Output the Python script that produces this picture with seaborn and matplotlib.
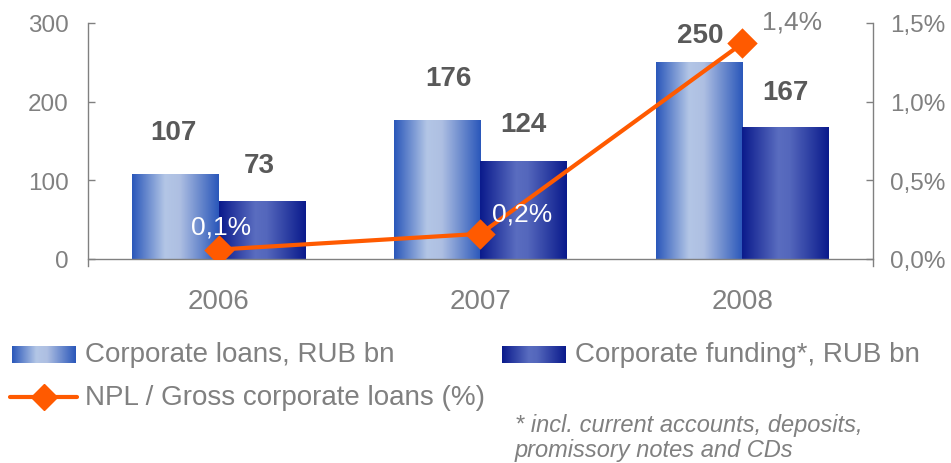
import numpy as np
import pandas as pd
import matplotlib
matplotlib.use("Agg")
import matplotlib.pyplot as plt
from matplotlib.colors import LinearSegmentedColormap
from matplotlib.lines import Line2D
import seaborn as sns

# --- data -----------------------------------------------------------------
years = ["2006", "2007", "2008"]
corporate_loans = [107, 176, 250]        # RUB bn
corporate_funding = [73, 124, 167]       # RUB bn
npl_ratio = [0.06, 0.16, 1.37]           # NPL / gross corporate loans, %
series_names = ["Corporate loans, RUB bn", "Corporate funding*, RUB bn"]
npl_name = "NPL / Gross corporate loans (%)"
footnote_lines = ["* incl. current accounts, deposits,",
                  "promissory notes and CDs"]

df = pd.DataFrame({
    "year": years * 2,
    "series": [series_names[0]] * 3 + [series_names[1]] * 3,
    "value": corporate_loans + corporate_funding,
})

# --- style ----------------------------------------------------------------
sns.set_theme(style="white")
plt.rcParams["font.family"] = ["Liberation Sans", "DejaVu Sans"]

GREY = "#808080"
DARK = "#595959"
ORANGE = "#FF5A00"
DPI = 100
PX = 72.0 / DPI  # points per pixel

loans_cmap = LinearSegmentedColormap.from_list(
    "loans", [(0.0, "#2a57ba"), (0.38, "#b3c6e6"), (0.55, "#aebfe2"), (1.0, "#2a57ba")])
funding_cmap = LinearSegmentedColormap.from_list(
    "funding", [(0.0, "#0a1a8c"), (0.42, "#5a6dc0"), (0.55, "#5467bc"), (1.0, "#0a1a8c")])

fig = plt.figure(figsize=(9.51, 4.64), dpi=DPI)
ax = fig.add_axes([0.0925, 0.4397, 0.8255, 0.5086])

sns.barplot(data=df, x="year", y="value", hue="series", order=years,
            hue_order=series_names, width=0.66, gap=0, ax=ax,
            legend=False, edgecolor="none", linewidth=0, zorder=2)

ax.set_xlim(-0.5, 2.5)
ax.set_ylim(0, 300)

# Paint each bar with a horizontal gradient clipped to its rectangle
grad = np.linspace(0, 1, 256).reshape(1, -1)
for container, cmap in zip(ax.containers, [loans_cmap, funding_cmap]):
    for rect in container:
        x0, y0 = rect.get_x(), rect.get_y()
        w, h = rect.get_width(), rect.get_height()
        rect.set_facecolor("none")
        ax.imshow(grad, cmap=cmap, extent=[x0, x0 + w, y0, y0 + h],
                  aspect="auto", interpolation="bicubic", zorder=2)
ax.set_xlim(-0.5, 2.5)
ax.set_ylim(0, 300)

# Value labels above bars (offsets in pixels: dx, gap above bar top)
label_offsets = [[(-2, 30), (11, 30), (1, 14)],
                 [(-3, 24), (0, 24), (0, 23)]]
for container, values, offs in zip(ax.containers,
                                   [corporate_loans, corporate_funding],
                                   label_offsets):
    for rect, v, (dx, dy) in zip(container, values, offs):
        ax.annotate(f"{v}", (rect.get_x() + rect.get_width() / 2, rect.get_height()),
                    xytext=(dx * PX, dy * PX), textcoords="offset points",
                    ha="center", va="bottom", fontsize=20, fontweight="bold",
                    color=DARK, zorder=6)

# Axes styling
for side in ["top", "right"]:
    ax.spines[side].set_visible(False)
for side in ["left", "bottom"]:
    ax.spines[side].set_color(GREY)
    ax.spines[side].set_linewidth(1.0)
ax.spines["left"].set_bounds(-9, 300)
ax.set_yticks([0, 100, 200, 300])
ax.tick_params(axis="y", direction="in", length=7 * PX, width=1, color=GREY,
               labelsize=17.5, labelcolor=GREY, pad=19 * PX)
ax.tick_params(axis="x", length=0, labelsize=20, labelcolor=GREY, pad=29 * PX)
ax.set_xlabel("")
ax.set_ylabel("")
ax.grid(False)
ax.set_facecolor("none")

# Secondary axis: NPL ratio
ax2 = ax.twinx()
npl_df = pd.DataFrame({"year": years, "npl": npl_ratio})
sns.pointplot(data=npl_df, x="year", y="npl", order=years, ax=ax2,
              color=ORANGE, markers="D", markersize=13, linewidth=3,
              zorder=5)
ax2.set_xlim(-0.5, 2.5)
ax2.set_ylim(0, 1.5)
ax2.set_yticks([0, 0.5, 1.0, 1.5])
ax2.set_yticklabels([f"{t:.1f}%".replace(".", ",") for t in [0, 0.5, 1.0, 1.5]])
for side in ["top", "left", "bottom"]:
    ax2.spines[side].set_visible(False)
ax2.spines["right"].set_color(GREY)
ax2.spines["right"].set_linewidth(1.0)
ax2.spines["right"].set_bounds(-0.045, 1.5)
ax2.tick_params(axis="y", direction="in", length=7 * PX, width=1, color=GREY,
                labelsize=17.5, labelcolor=GREY, pad=17 * PX)
ax2.set_xlabel("")
ax2.set_ylabel("")
ax2.grid(False)
for line in ax2.lines:
    line.set_markeredgecolor(ORANGE)
    line.set_solid_capstyle("butt")

npl_offsets = [(2, 23), (42, 20), (50, 22)]
npl_colors = ["white", "white", GREY]
for i, (v, (dx, dy), c) in enumerate(zip(npl_ratio, npl_offsets, npl_colors)):
    ax2.annotate(f"{v:.1f}%".replace(".", ","), (i, v),
                 xytext=(dx * PX, dy * PX), textcoords="offset points",
                 ha="center", va="center", fontsize=19, color=c, zorder=7)

# --- legend ---------------------------------------------------------------
W, H = 951.0, 464.0

def swatch(x0, y0, x1, y1, cmap):
    sax = fig.add_axes([x0 / W, 1 - y1 / H, (x1 - x0) / W, (y1 - y0) / H])
    sax.imshow(grad, cmap=cmap, aspect="auto", interpolation="bicubic")
    sax.set_axis_off()

swatch(12, 347, 75, 364, loans_cmap)
fig.text(85 / W, 1 - 355 / H, series_names[0], fontsize=20, color=GREY,
         ha="left", va="center")
swatch(502, 347, 565, 364, funding_cmap)
fig.text(575 / W, 1 - 355 / H, series_names[1], fontsize=20, color=GREY,
         ha="left", va="center")

fig.add_artist(Line2D([10 / W, 77 / W], [1 - 398 / H, 1 - 398 / H],
                      transform=fig.transFigure, color=ORANGE, linewidth=3))
fig.add_artist(Line2D([44 / W], [1 - 398 / H], transform=fig.transFigure,
                      color=ORANGE, marker="D", markersize=13, linestyle="none"))
fig.text(85 / W, 1 - 398 / H, npl_name, fontsize=20, color=GREY,
         ha="left", va="center")

for text, yc in zip(footnote_lines, [426, 451]):
    fig.text(515 / W, 1 - yc / H, text, fontsize=17, color=GREY,
             style="italic", ha="left", va="center")

fig.savefig("out.png", dpi=DPI)
